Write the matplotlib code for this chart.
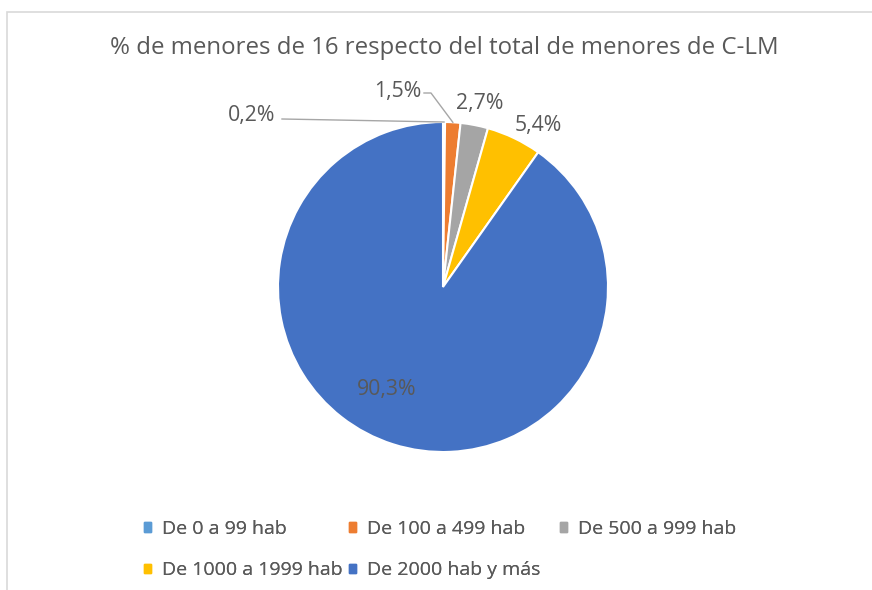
import matplotlib.pyplot as plt
import matplotlib.patches as mpatches
import numpy as np

plt.rcParams['font.family'] = ['Open Sans', 'DejaVu Sans']

categories = ['De 0 a 99 hab', 'De 100 a 499 hab', 'De 500 a 999 hab',
              'De 1000 a 1999 hab', 'De 2000 hab y más']
values = [0.2, 1.5, 2.7, 5.4, 90.3]
labels = ['0,2%', '1,5%', '2,7%', '5,4%', '90,3%']
colors = ['#5B9BD5', '#ED7D31', '#A5A5A5', '#FFC000', '#4472C4']

txt = '#595959'
line_col = '#A6A6A6'

fig = plt.figure(figsize=(8.72, 5.90), dpi=100)

# light frame around the chart area
frame = mpatches.Rectangle((7 / 872, -0.05), 1.0, (590 - 12) / 590 + 0.05,
                           transform=fig.transFigure, fill=False,
                           edgecolor='#D9D9D9', linewidth=1.2)
fig.patches.append(frame)

fig.text(444 / 872, (590 - 48) / 590,
         '% de menores de 16 respecto del total de menores de C-LM',
         ha='center', va='center', fontsize=17.3, color=txt)

# pie centred at (443, 287) px with radius 165 px
ax = fig.add_axes([(443 - 165) / 872, (590 - 287 - 165) / 590, 330 / 872, 330 / 590])
wedges, _ = ax.pie(values, colors=colors, startangle=90, counterclock=False,
                   radius=1.0, wedgeprops=dict(edgecolor='white', linewidth=1.5))
ax.set_xlim(-1, 1)
ax.set_ylim(-1, 1)
ax.set_aspect('equal')
ax.axis('off')

# label positions (pixel offsets from centre)
label_px = [(-191, 171), (-45, 196), (37, 183), (95, 162), (-56, -103)]
for i, (w, lab) in enumerate(zip(wedges, labels)):
    dx, dy = label_px[i]
    ax.text(dx / 165, dy / 165, lab, ha='center', va='center',
            fontsize=15.3, color=txt, clip_on=False)

def edge_point(w):
    a = np.deg2rad((w.theta1 + w.theta2) / 2)
    return np.cos(a), np.sin(a)

# leader for 0,2%
ex, ey = edge_point(wedges[0])
ax.plot([-161 / 165, ex], [168 / 165, ey], color=line_col, lw=1.0, clip_on=False)
# leader for 1,5%
ex, ey = edge_point(wedges[1])
ax.plot([-19 / 165, -12 / 165, ex], [194 / 165, 194 / 165, ey],
        color=line_col, lw=1.0, clip_on=False)

# legend: three columns placed like the original
cols = [[0, 3], [1, 4], [2]]
col_x = [144, 349, 560]
for idx, cx in zip(cols, col_x):
    handles = [mpatches.Patch(color=colors[i]) for i in idx]
    leg = fig.legend(handles, [categories[i] for i in idx],
                     loc='upper left', bbox_to_anchor=(cx / 872, (590 - 520) / 590),
                     frameon=False, fontsize=14, labelcolor=txt,
                     handlelength=0.35, handleheight=0.35, handletextpad=0.55,
                     labelspacing=1.2, borderpad=0, borderaxespad=0)
    fig.add_artist(leg)

fig.savefig('out.png', dpi=100)
